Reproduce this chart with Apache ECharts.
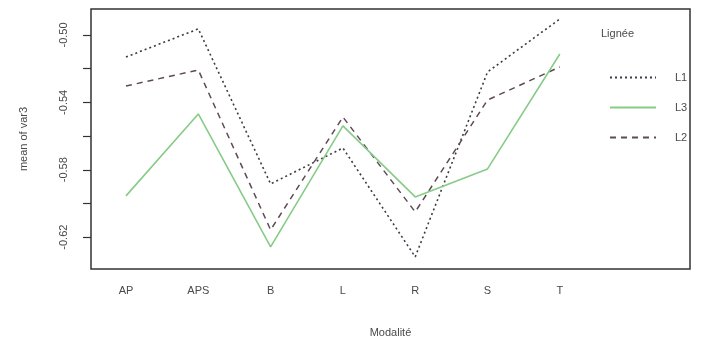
<!DOCTYPE html>
<html>
<head>
<meta charset="utf-8">
<script src="https://cdn.jsdelivr.net/npm/echarts@6/dist/echarts.min.js"></script>
<style>
html, body { margin: 0; padding: 0; background: #fff; }
#chart { width: 709px; height: 347px; }
</style>
</head>
<body>
<div id="chart"></div>
<script>
// categories (Modalité) placed at x = 1..7
var categories = ['AP', 'APS', 'B', 'L', 'R', 'S', 'T'];
var seriesNames = ['L1', 'L2', 'L3'];
var legendOrder = ['L1', 'L3', 'L2'];
// mean of var3 per Lignée
var valuesL1 = [-0.5131, -0.4964, -0.5884, -0.5671, -0.6317, -0.5220, -0.4905];
var valuesL2 = [-0.5303, -0.5208, -0.6157, -0.5487, -0.6050, -0.5386, -0.5190];
var valuesL3 = [-0.5955, -0.5469, -0.6258, -0.5540, -0.5961, -0.5795, -0.5113];
// y axis ticks / labels
var yTicks = [-0.62, -0.60, -0.58, -0.56, -0.54, -0.52, -0.50];
var yLabels = [-0.62, -0.58, -0.54, -0.50];

var font = 'Liberation Sans, Arial, sans-serif';
var textColor = '#4a4a4a';

function pts(vals) {
    return vals.map(function (v, i) { return [i + 1, v]; });
}

var myChart = echarts.init(document.getElementById('chart'));
var option = {
    animation: false,
    backgroundColor: '#fff',
    title: {
        text: 'Lignée',
        left: 596,
        top: 23,
        textStyle: { color: textColor, fontSize: 11, fontWeight: 'normal', fontFamily: font }
    },
    legend: {
        data: legendOrder,
        orient: 'vertical',
        left: 604,
        top: 67,
        itemWidth: 46,
        itemHeight: 10,
        itemGap: 19,
        itemStyle: { opacity: 0 },
        textStyle: { color: textColor, fontSize: 11, fontFamily: font, padding: [0, 0, 0, 14] }
    },
    grid: {
        left: 91, right: 19, top: 9, bottom: 78,
        show: true,
        borderColor: '#333',
        borderWidth: 1.5,
        backgroundColor: 'transparent'
    },
    xAxis: {
        type: 'value',
        min: 0.516,
        max: 8.8,
        name: 'Modalité',
        nameLocation: 'middle',
        nameGap: 58,
        nameTextStyle: { color: textColor, fontSize: 11, fontFamily: font },
        axisLine: { show: false },
        axisTick: { show: false },
        splitLine: { show: false },
        axisLabel: {
            customValues: [1, 2, 3, 4, 5, 6, 7],
            margin: 16,
            color: textColor,
            fontSize: 11,
            fontFamily: font,
            formatter: function (v) { return categories[Math.round(v) - 1] || ''; }
        }
    },
    yAxis: {
        type: 'value',
        min: -0.6389,
        max: -0.4846,
        name: 'mean of var3',
        nameLocation: 'middle',
        nameRotate: 90,
        nameGap: 62,
        nameTextStyle: { color: textColor, fontSize: 11, fontFamily: font },
        axisLine: { show: false },
        splitLine: { show: false },
        axisTick: {
            show: true,
            customValues: yTicks,
            length: 8,
            lineStyle: { color: '#333', width: 1.2 }
        },
        axisLabel: {
            customValues: yLabels,
            rotate: 90,
            margin: 22,
            color: textColor,
            fontSize: 11,
            fontFamily: font,
            formatter: function (v) { return v.toFixed(2); }
        }
    },
    series: [{
        name: seriesNames[0],
        type: 'line',
        data: pts(valuesL1),
        symbol: 'none',
        color: '#3a3d48',
        lineStyle: { type: [2, 3], width: 1.6, color: '#3a3d48' }
    }, {
        name: seriesNames[1],
        type: 'line',
        data: pts(valuesL2),
        symbol: 'none',
        color: '#5e4a52',
        lineStyle: { type: [6, 5], width: 1.5, color: '#5e4a52' }
    }, {
        name: seriesNames[2],
        type: 'line',
        data: pts(valuesL3),
        symbol: 'none',
        color: '#86cc86',
        lineStyle: { type: 'solid', width: 1.6, color: '#86cc86' }
    }]
};
myChart.setOption(option);
</script>
</body>
</html>
